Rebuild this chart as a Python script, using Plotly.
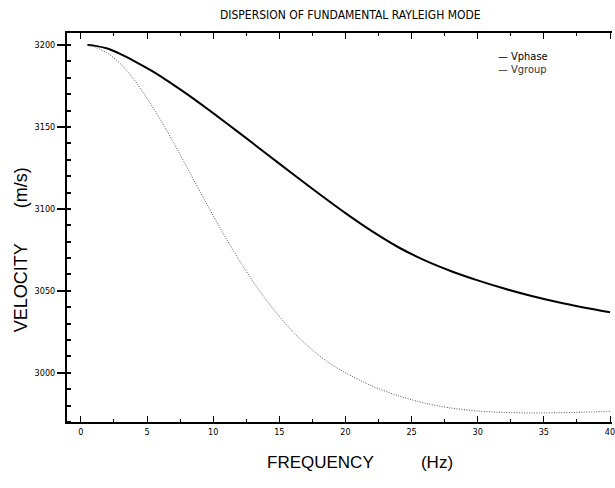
import plotly.graph_objects as go

# Data
freq_phase = [0.5, 1, 2, 3, 4, 5, 6, 7, 8, 9, 10, 12, 14, 16, 18, 20, 22, 24, 26, 28, 30,
              32, 34, 36, 38, 40]
v_phase = [3200, 3199.6, 3197.8, 3194.4, 3190.3, 3185.8, 3181, 3175.7, 3170.2, 3164.4,
           3158.4, 3146.2, 3133.8, 3121.4, 3109.2, 3097.4, 3086.4, 3076.6, 3068.6, 3062,
           3056.4, 3051.4, 3047, 3043.2, 3039.9, 3037]

freq_group = [0.5, 1, 2, 3, 4, 5, 6, 7, 8, 9, 10, 11, 12, 13, 14, 15, 16, 17, 18, 19, 20,
              22, 24, 26, 28, 30, 32, 34, 36, 38, 40]
v_group = [3200, 3199, 3195, 3188.5, 3179, 3167.5, 3154.5, 3140.5, 3125.7, 3110.7, 3095.9,
           3081.7, 3068.3, 3055.9, 3044.6, 3034.4, 3025.3, 3017.5, 3010.6, 3004.8, 3000,
           2992, 2986, 2981.5, 2978.5, 2976.7, 2975.8, 2975.5, 2975.6, 2976, 2976.5]

x_ticks = [0, 5, 10, 15, 20, 25, 30, 35, 40]
y_ticks = [3000, 3050, 3100, 3150, 3200]

title_text = "DISPERSION OF FUNDAMENTAL RAYLEIGH MODE"
x_title = "FREQUENCY" + "&nbsp;" * 10 + "(Hz)"
y_title = "VELOCITY" + "&nbsp;" * 7 + "(m/s)"

fig = go.Figure()
fig.add_trace(go.Scatter(x=freq_phase, y=v_phase, mode="lines", name="Vphase",
                         line=dict(color="black", width=2, shape="spline", smoothing=0.8),
                         showlegend=False))
fig.add_trace(go.Scatter(x=freq_group, y=v_group, mode="lines", name="Vgroup",
                         line=dict(color="#555555", width=1, dash="1px,1.5px",
                                   shape="spline", smoothing=0.8),
                         showlegend=False))

W, H = 615, 488
ml, mr, mt, mb = 67, 0, 33, 66
pw, ph = W - ml - mr, H - mt - mb

def px(x):
    return (x - ml) / pw

def py(y):
    return (H - mb - y) / ph

tick_font = dict(family="DejaVu Sans Condensed", size=9, color="black")

fig.update_layout(
    width=W, height=H,
    margin=dict(l=ml, r=mr, t=mt, b=mb, pad=0),
    paper_bgcolor="white", plot_bgcolor="white",
    showlegend=False,
    xaxis=dict(range=[-1.05, 40.15], tickvals=x_ticks, ticks="inside", ticklen=6,
               tickwidth=1, tickcolor="black", showline=True, linecolor="black",
               linewidth=2, mirror="ticks", showgrid=False, zeroline=False,
               tickfont=tick_font, ticklabeloverflow="allow",
               minor=dict(dtick=2.5, tick0=0, ticks="inside", ticklen=3,
                          tickcolor="black", showgrid=False)),
    yaxis=dict(range=[2970, 3207.3], tickvals=y_ticks, tickformat="d", ticks="outside",
               ticklen=8, tickwidth=1.5, tickcolor="black", showline=True,
               linecolor="black", linewidth=2, mirror=False, showgrid=False,
               zeroline=False, tickfont=tick_font,
               minor=dict(dtick=10, tick0=3000, ticks="inside", ticklen=4,
                          tickcolor="black", showgrid=False)),
    annotations=[
        dict(text=title_text, x=px(352), y=py(15), xref="paper", yref="paper",
             yanchor="middle",
             showarrow=False, font=dict(family="DejaVu Sans Condensed", size=12, color="black")),
        dict(text=x_title, x=px(362), y=py(474), xref="paper", yref="paper",
             showarrow=False, font=dict(family="Liberation Sans", size=17, color="black")),
        dict(text=y_title, x=px(21), y=py(250), xref="paper", yref="paper",
             xanchor="center", yanchor="middle",
             showarrow=False, textangle=-90,
             font=dict(family="Liberation Sans", size=18, color="black")),
        dict(text="\u2014 Vphase", x=px(498), y=py(48), xref="paper", yref="paper",
             xanchor="left", showarrow=False,
             font=dict(family="DejaVu Sans Condensed", size=11, color="black")),
        dict(text="\u2014 Vgroup", x=px(498), y=py(61), xref="paper", yref="paper",
             xanchor="left", showarrow=False,
             font=dict(family="DejaVu Sans Condensed", size=11, color="#333333")),
    ],
)

fig.write_html("out.html")
